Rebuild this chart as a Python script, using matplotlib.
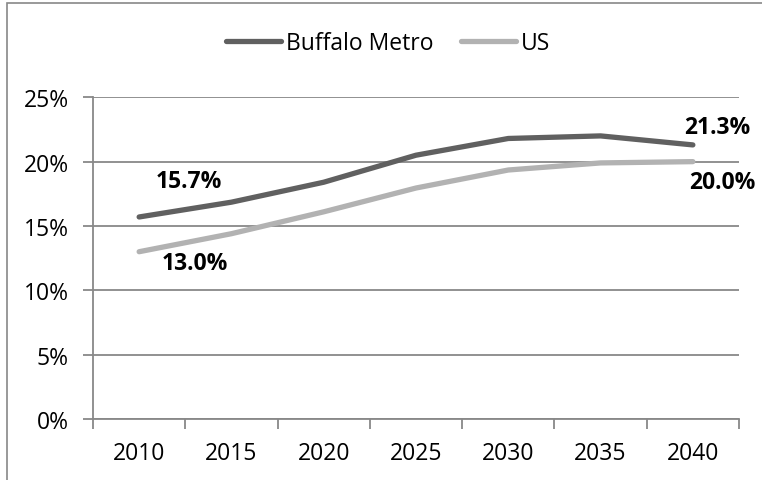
import matplotlib
matplotlib.use("Agg")
import matplotlib.pyplot as plt
from matplotlib.patches import Rectangle

years = ["2010", "2015", "2020", "2025", "2030", "2035", "2040"]
buffalo = [15.7, 16.85, 18.4, 20.5, 21.8, 22.0, 21.3]
us = [13.0, 14.4, 16.1, 17.95, 19.35, 19.9, 20.0]
yticks = [0, 5, 10, 15, 20, 25]
ytick_labels = ["0%", "5%", "10%", "15%", "20%", "25%"]
series_names = ["Buffalo Metro", "US"]

plt.rcParams['font.family'] = ['Open Sans', 'DejaVu Sans']

fig = plt.figure(figsize=(7.62, 4.81), dpi=100)
ax = fig.add_axes([93/762, 1-420/481, (739-93)/762, (420-98.3)/481])

x = list(range(len(years)))
dark = "#606060"
light = "#b2b2b2"
l1, = ax.plot(x, buffalo, color=dark, lw=3.8, solid_capstyle='round', solid_joinstyle='round', label=series_names[0], zorder=3)
l2, = ax.plot(x, us, color=light, lw=3.8, solid_capstyle='round', solid_joinstyle='round', label=series_names[1], zorder=3)

ax.set_xlim(-0.5, len(years) - 0.5)
ax.set_ylim(0, 25)
ax.set_yticks(yticks)
ax.set_yticklabels(ytick_labels)
ax.set_xticks(x)
ax.set_xticklabels(years)
ax.set_xticks([i - 0.5 for i in range(len(years) + 1)], minor=True)
ax.tick_params(axis='x', which='major', length=0, pad=16, labelsize=16.5, colors='black')
ax.tick_params(axis='x', which='minor', length=7, width=1.3, color='#888888', direction='out')
ax.tick_params(axis='y', length=7, width=1.3, color='#888888', pad=10.5, labelsize=16.5)
ax.yaxis.grid(True, color='#888888', lw=1.3, zorder=0)
ax.set_axisbelow(True)
for s in ['top', 'right']:
    ax.spines[s].set_visible(False)
for s in ['left', 'bottom']:
    ax.spines[s].set_color('#888888')
    ax.spines[s].set_linewidth(1.3)

lbl = dict(fontsize=16.5, fontweight='bold', ha='center', va='center')
ax.annotate(f"{buffalo[0]:.1f}%", (x[0], buffalo[0]), xytext=(50, 36), textcoords='offset pixels', **lbl)
ax.annotate(f"{us[0]:.1f}%", (x[0], us[0]), xytext=(56, -11), textcoords='offset pixels', **lbl)
ax.annotate(f"{buffalo[-1]:.1f}%", (x[-1], buffalo[-1]), xytext=(24, 18), textcoords='offset pixels', **lbl)
ax.annotate(f"{us[-1]:.1f}%", (x[-1], us[-1]), xytext=(30, -20), textcoords='offset pixels', **lbl)

fig.legend(handles=[l1, l2], loc='center', bbox_to_anchor=(388/762, 1-44/481), ncol=2, frameon=False,
           fontsize=16.5, handlelength=2.4, handletextpad=0.2, columnspacing=1.2)

fig.patches.append(Rectangle((7/762, -0.1), 1.2, 1-4/481+0.1, transform=fig.transFigure,
                             fill=False, edgecolor='#888888', lw=1.2))

fig.savefig("out.png", dpi=100)
